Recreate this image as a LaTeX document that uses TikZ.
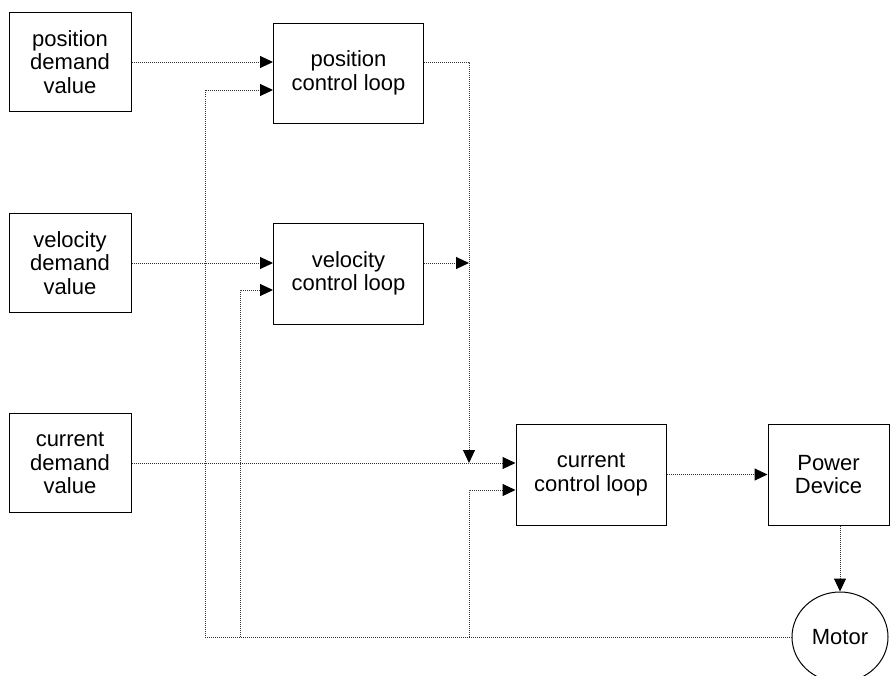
\documentclass[tikz,border=0pt]{standalone}
\usepackage{fontspec}
\setmainfont{Liberation Sans}
\usetikzlibrary{arrows.meta,shapes.geometric,positioning}

\begin{document}
\begin{tikzpicture}[x=1pt,y=-1pt,>={Triangle[length=13pt,width=12pt,color=black]},
  font=\fontsize{22}{23.5}\selectfont,
  box/.style={draw,line width=1pt,align=center,inner sep=0pt},
  demand/.style={box,minimum width=122pt,minimum height=99pt},
  loop/.style={box,minimum width=150pt,minimum height=101pt},
  link/.style={draw=black!80,line width=1pt,densely dotted}]
\useasboundingbox (0,0) rectangle (896,675);
% input boxes
\node[demand] (posdemand) at (70,62) {position\\demand\\value};
\node[demand] (veldemand) at (70,263) {velocity\\demand\\value};
\node[demand] (curdemand) at (70,463) {current\\demand\\value};
% control loops
\node[loop,minimum height=100pt] (posloop) at (348.5,73) {position\\control loop};
\node[loop] (velloop) at (348.5,273.5) {velocity\\control loop};
\node[loop] (curloop) at (591,474.5) {current\\control loop};
\node[loop,minimum width=121pt] (power) at (828.5,474.5) {Power\\Device};
\node[draw,line width=1pt,ellipse,minimum width=96pt,minimum height=90pt] (motor) at (840,637) {Motor};
% junctions
\coordinate (fbpos) at (205,90);
\coordinate (fbvel) at (240,290);
\coordinate (fbcur) at (469,490);
\coordinate (sum) at (469,463);
% forward path
\draw[link,->] (posdemand.east) -- (posdemand.east -| posloop.west);
\draw[link,->] (veldemand.east) -- (veldemand.east -| velloop.west);
\draw[link,->] (curdemand.east) -- (curdemand.east -| curloop.west);
\draw[link,->] (posdemand.east -| posloop.east) -| (sum);
\draw[link,->] (veldemand.east -| velloop.east) -- (veldemand.east -| sum);
\draw[link,->] (curloop) -- (power);
\draw[link,->] (power.south -| motor.north) -- (motor.north);
% feedback
\draw[link,->] (motor.west) -- (fbpos |- motor.west) -- (fbpos) -- (fbpos -| posloop.west);
\draw[link,->] (fbvel |- motor.west) -- (fbvel) -- (fbvel -| velloop.west);
\draw[link,->] (fbcur |- motor.west) -- (fbcur) -- (fbcur -| curloop.west);
\end{tikzpicture}
\end{document}
